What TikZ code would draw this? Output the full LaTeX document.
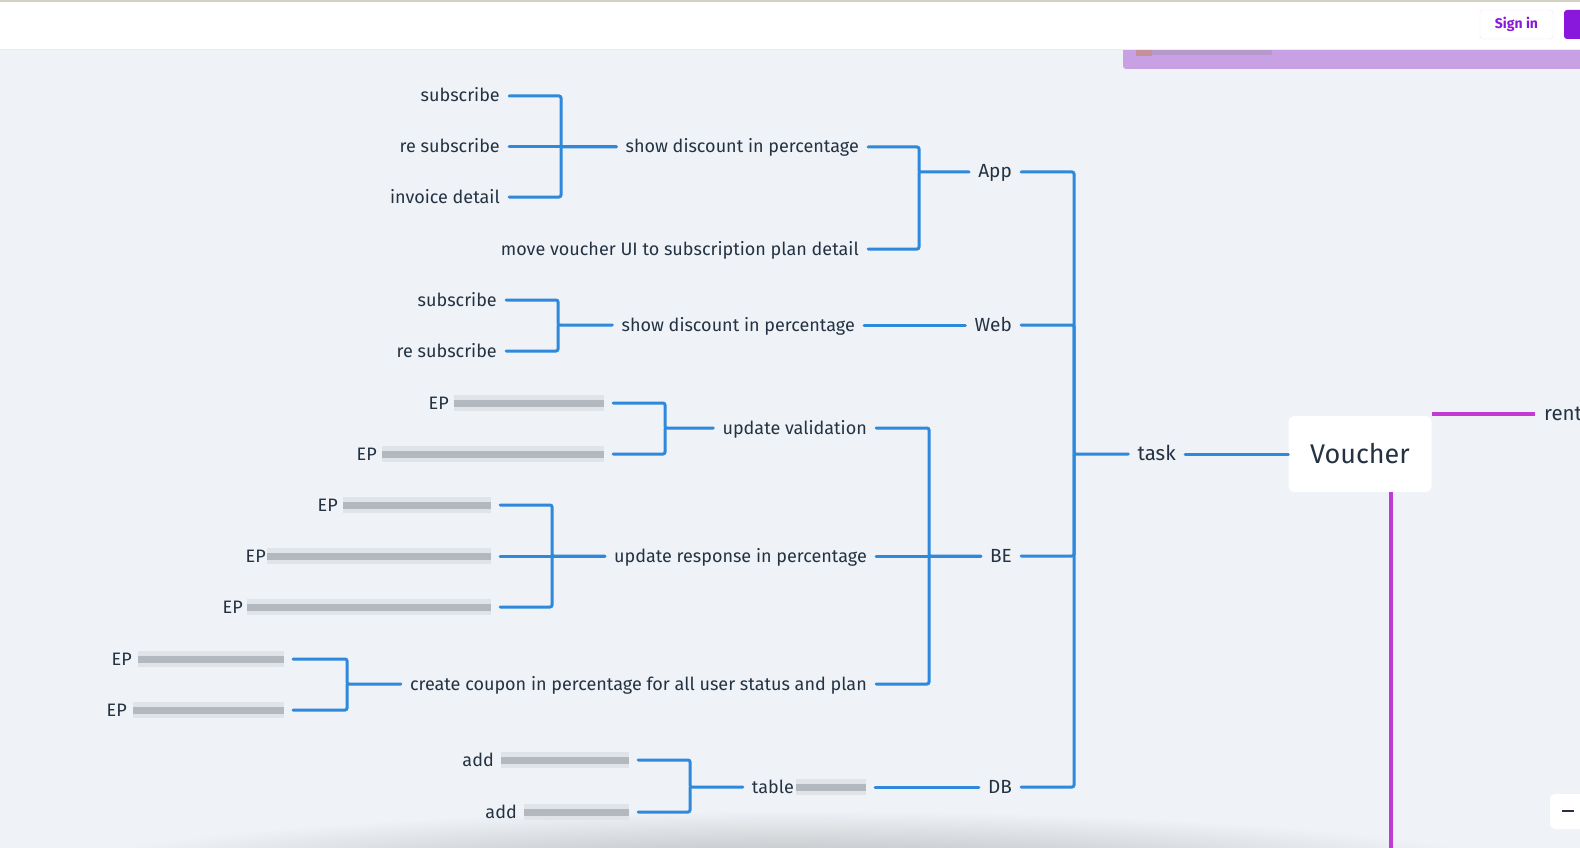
\documentclass[tikz,border=0pt]{standalone}
\usepackage{fontspec}
\setmainfont{Fira Sans}

\definecolor{canvas}{HTML}{EFF3F7}
\definecolor{ink}{HTML}{243242}
\definecolor{branch}{HTML}{2E88DC}
\definecolor{rootline}{HTML}{C03AD3}
\definecolor{brand}{HTML}{8A17DC}
\definecolor{panel}{HTML}{C8A0E4}
\definecolor{blurlt}{HTML}{E0E3E7}
\definecolor{blurdk}{HTML}{B3B8BF}
\definecolor{topline}{HTML}{D5D2C3}

% pixelated (hidden) part of a label
\newcommand{\blurbar}[1]{{\color{blurlt}\rule[-2pt]{#1pt}{16pt}}\hspace{-#1pt}{\color{blurdk}\rule[2.5pt]{#1pt}{7pt}}}

\begin{document}
\begin{tikzpicture}[
    x=1pt, y=-1pt,
    topic/.style={
        anchor=east,
        text=ink,
        inner xsep=9pt,
        inner ysep=2pt,
        text height=14pt,
        text depth=2pt,
        font=\fontsize{18}{21}\selectfont
    },
    subject/.style={
        topic,
        font=\fontsize{19}{22}\selectfont
    },
    maintopic/.style={
        topic,
        font=\fontsize{20.5}{24}\selectfont
    },
    root/.style={
        rectangle,
        rounded corners=6pt,
        fill=white,
        text=ink,
        minimum width=143pt,
        minimum height=76pt,
        font=\fontsize{27}{32}\selectfont
    },
    link/.style={
        branch,
        line width=3pt,
        line cap=round,
        rounded corners=2pt
    },
    rootlink/.style={
        rootline,
        line width=3.5pt
    }
]

% Canvas
\fill[canvas] (0,0) rectangle (1580,848);
\useasboundingbox (0,0) rectangle (1580,848);
\begin{scope}
\clip (0,0) rectangle (1580,848);
\shade[inner color=black!30!canvas, outer color=canvas] (790,885) ellipse (780 and 75);
\end{scope}

% Purple panel under the header
\fill[panel, rounded corners=3pt] (1123,30) rectangle (1600,69);
\fill[panel!55!brown] (1136,47) rectangle (1152,56);
\fill[panel!75!gray] (1152,47) rectangle (1272,55);

% Header
\fill[white] (0,0) rectangle (1580,49);
\fill[topline] (0,0) rectangle (1580,2);
\draw[black!7] (0,49.5) -- (1580,49.5);
\node[draw=brand!12, fill=white, rounded corners=3pt, minimum width=73pt,
      minimum height=29pt, text=brand, font=\fontsize{14}{16}\selectfont\bfseries]
      (signin) at (1516.5,24.5) {Sign in};
\fill[brand, rounded corners=3pt] (1564,10) rectangle (1600,39);

% Zoom button
\fill[white, rounded corners=5pt] (1550,794) rectangle (1600,829);
\draw[ink, line width=2pt] (1562,811) -- (1574,811);

% Root
\node[root] (voucher) at (1360,454) {Voucher};
\node[maintopic, anchor=west, inner xsep=0pt] (rent) at (1544,414) {rent};
\coordinate (vbot) at (1391,850);

% App
\node[topic] (appsub) at (509,96) {subscribe};
\node[topic] (appresub) at (509,147) {re subscribe};
\node[topic] (appinv) at (509,197) {invoice detail};
\node[topic] (appdisc) at (868,147) {show discount in percentage};
\node[topic] (appmove) at (868,249) {move voucher UI to subscription plan detail};
\node[subject] (app) at (1021,172) {App};

% Web
\node[topic] (websub) at (506,300) {subscribe};
\node[topic] (webresub) at (506,351) {re subscribe};
\node[topic] (webdisc) at (864,325) {show discount in percentage};
\node[subject] (web) at (1021,325) {Web};

% BE
\node[topic] (ep1) at (613,403) {EP\hspace{5pt}\blurbar{150}};
\node[topic] (ep2) at (613,454) {EP\hspace{5pt}\blurbar{222}};
\node[topic] (valid) at (876,428) {update validation};
\node[topic] (ep3) at (500,505) {EP\hspace{5pt}\blurbar{148}};
\node[topic] (ep4) at (500,556) {EP\hspace{1pt}\blurbar{224}};
\node[topic] (ep5) at (500,607) {EP\hspace{4pt}\blurbar{244}};
\node[topic] (resp) at (876,556) {update response in percentage};
\node[topic] (ep6) at (293,659) {EP\hspace{6pt}\blurbar{146}};
\node[topic] (ep7) at (293,710) {EP\hspace{6pt}\blurbar{151}};
\node[topic] (coupon) at (876,684) {create coupon in percentage for all user status and plan};
\node[subject] (be) at (1021,556) {BE};

% DB
\node[topic] (add1) at (638,760) {add\hspace{7pt}\blurbar{128}};
\node[topic] (add2) at (638,812) {add\hspace{7pt}\blurbar{105}};
\node[topic] (table) at (875,787) {table\hspace{2pt}\blurbar{70}};
\node[subject] (db) at (1021,787) {DB};

\node[maintopic] (task) at (1185,454) {task};

% Bars
\coordinate (appdiscbar) at (561,147);
\coordinate (appbar) at (919,172);
\coordinate (webdiscbar) at (558,325);
\coordinate (validbar) at (665,428);
\coordinate (respbar) at (552,556);
\coordinate (couponbar) at (347,684);
\coordinate (bebar) at (929,556);
\coordinate (tablebar) at (690,787);
\coordinate (taskbar) at (1074,454);

% Connections
\draw[link] (appsub.east) -| (appdiscbar) -- (appdisc.west);
\draw[link] (appresub.east) -- (appdisc.west);
\draw[link] (appinv.east) -| (appdiscbar);
\draw[link] (appdisc.east) -| (appbar) -- (app.west);
\draw[link] (appmove.east) -| (appbar);

\draw[link] (websub.east) -| (webdiscbar) -- (webdisc.west);
\draw[link] (webresub.east) -| (webdiscbar);
\draw[link] (webdisc.east) -- (web.west);

\draw[link] (ep1.east) -| (validbar) -- (valid.west);
\draw[link] (ep2.east) -| (validbar);
\draw[link] (ep3.east) -| (respbar) -- (resp.west);
\draw[link] (ep4.east) -- (resp.west);
\draw[link] (ep5.east) -| (respbar);
\draw[link] (ep6.east) -| (couponbar) -- (coupon.west);
\draw[link] (ep7.east) -| (couponbar);
\draw[link] (valid.east) -| (bebar) -- (be.west);
\draw[link] (resp.east) -- (be.west);
\draw[link] (coupon.east) -| (bebar);

\draw[link] (add1.east) -| (tablebar) -- (table.west);
\draw[link] (add2.east) -| (tablebar);
\draw[link] (table.east) -- (db.west);

\draw[link] (app.east) -| (taskbar) -- (task.west);
\draw[link] (web.east) -| (taskbar);
\draw[link] (be.east) -| (taskbar);
\draw[link] (db.east) -| (taskbar);
\draw[link, rounded corners=0pt] (task.east) -- (voucher.west);

\draw[rootlink] (voucher.north east |- rent.west) -- ([xshift=-9pt]rent.west);
\draw[rootlink] (voucher.south -| vbot) -- (vbot);

\end{tikzpicture}
\end{document}
